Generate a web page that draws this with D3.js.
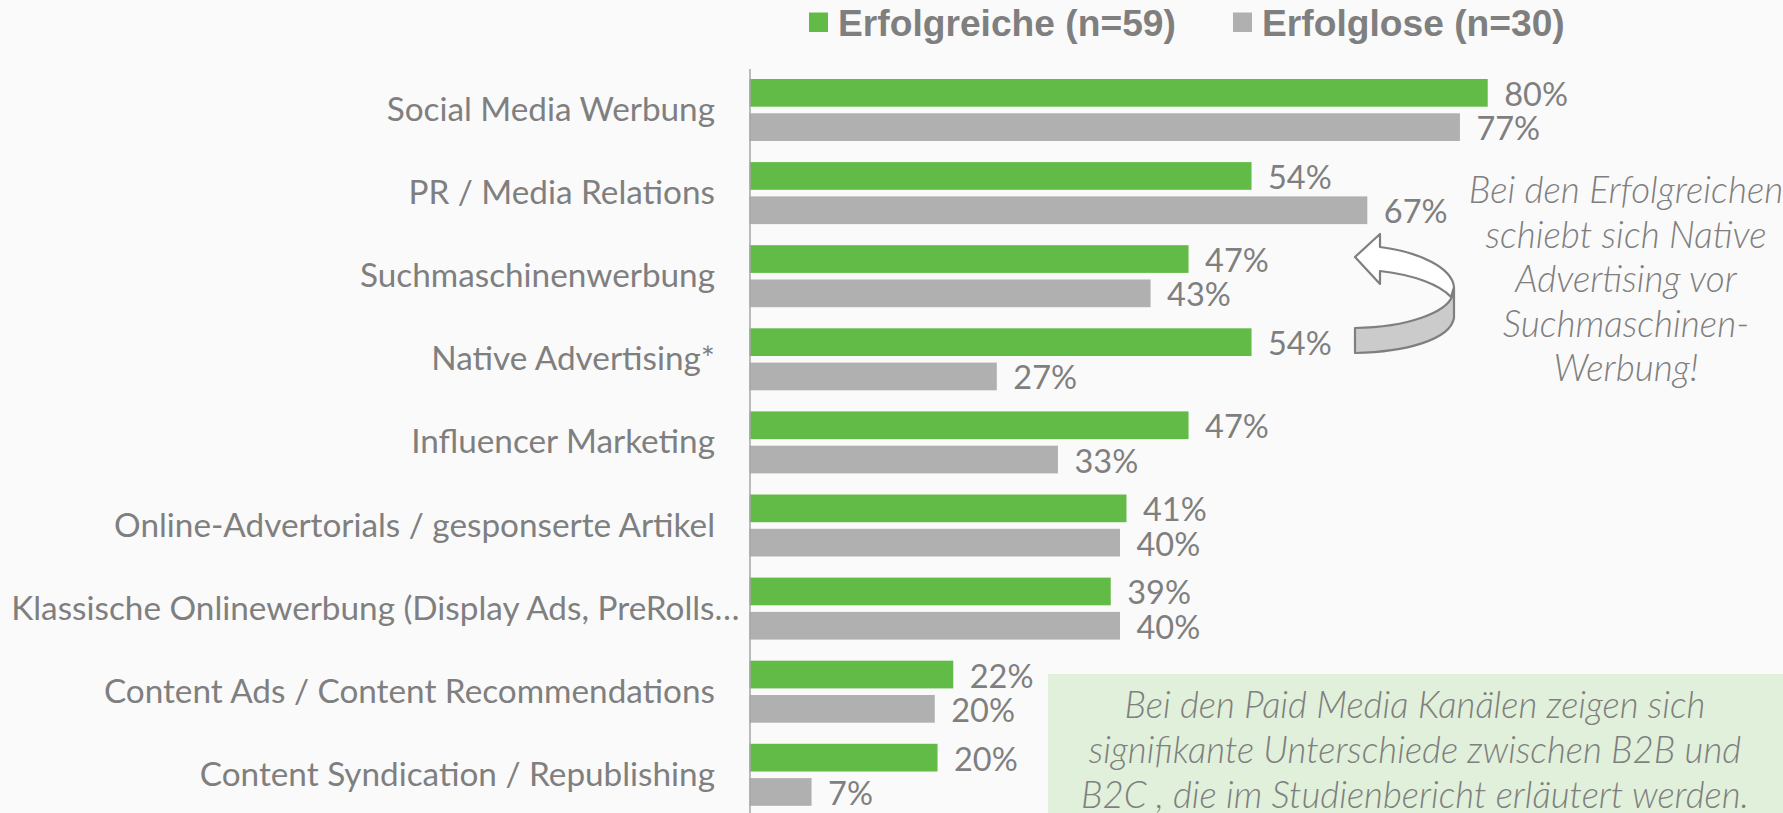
<!DOCTYPE html>
<html><head><meta charset="utf-8">
<script src="https://cdn.jsdelivr.net/npm/d3@7"></script>
<style>html,body{margin:0;padding:0;background:#fafafa;overflow:hidden}svg{display:block}</style>
</head><body><svg id="c" width="1783" height="813"></svg>
<script>
const categories=["Social Media Werbung","PR / Media Relations","Suchmaschinenwerbung","Native Advertising*","Influencer Marketing","Online-Advertorials / gesponserte Artikel","Klassische Onlinewerbung (Display Ads, PreRolls…","Content Ads / Content Recommendations","Content Syndication / Republishing"];
const erfolgreiche=[79.7,54.2,47.4,54.2,47.4,40.7,39.0,22.0,20.3];
const erfolglose=[76.7,66.7,43.3,26.7,33.3,40.0,40.0,20.0,6.7];
const seriesNames=["Erfolgreiche (n=59)","Erfolglose (n=30)"];
const noteRight=["Bei den Erfolgreichen","schiebt sich Native","Advertising vor","Suchmaschinen-","Werbung!"];
const noteBox=["Bei den Paid Media Kanälen zeigen sich","signifikante Unterschiede zwischen B2B und","B2C , die im Studienbericht erläutert werden."];

const GREEN="#62bb46",GRAY="#b0b0b0",TXT="#7f7f7f",FONT="Lato, 'Open Sans', sans-serif";
const svg=d3.select("#c");
svg.append("rect").attr("width",1783).attr("height",813).attr("fill","#fafafa");

const x=d3.scaleLinear().domain([0,80]).range([749.5,1490.5]);
const y=d3.scaleBand().domain(categories).range([68.5,68.5+83.1*categories.length]).paddingInner(0).paddingOuter(0);
const sub=d3.scaleBand().domain([0,1]).range([10.5,72.5]).paddingInner(0.192);

svg.append("rect").attr("x",1048).attr("y",674).attr("width",735).attr("height",139).attr("fill","#e0f0da");

const rows=svg.append("g").selectAll("g").data(categories).join("g").attr("transform",d=>`translate(0,${y(d)})`);
[erfolgreiche,erfolglose].forEach((vals,s)=>{
  rows.append("rect").attr("x",x(0)).attr("y",sub(s)).attr("height",sub.bandwidth())
    .attr("width",(d,i)=>x(vals[i])-x(0)).attr("fill",s?GRAY:GREEN);
  rows.append("text").attr("x",(d,i)=>x(vals[i])+16.5).attr("y",sub(s)+sub.bandwidth()/2+13)
    .attr("font-family",FONT).attr("font-size",32.5).attr("font-weight",400).attr("fill",TXT)
    .text((d,i)=>Math.round(vals[i])+"%");
});

const axis=d3.axisLeft(y).tickSize(0).tickPadding(34.5);
const ag=svg.append("g").attr("transform",`translate(${x(0)},0)`).call(axis);
ag.select(".domain").attr("stroke","#a6a6a6").attr("stroke-width",1.5);
ag.selectAll("text").attr("font-family",FONT).attr("font-size",33.3).attr("font-weight",400).attr("fill",TXT).attr("dy",null).attr("y",11);
ag.selectAll(".tick text").filter(d=>d.startsWith("Klassische")).attr("x",-10);

const leg=svg.append("g");
[[809,838],[1233,1262]].forEach(([sx,tx],i)=>{
  leg.append("rect").attr("x",sx).attr("y",12.5).attr("width",19).attr("height",19.5).attr("fill",i?GRAY:GREEN);
  leg.append("text").attr("x",tx).attr("y",36).attr("font-family","'Liberation Sans',Arial,sans-serif").attr("font-weight",700).attr("font-size",37.2).attr("fill",TXT).text(seriesNames[i]);
});

const arrow=svg.append("g").attr("stroke","#7f7f7f").attr("stroke-width",2.2).attr("stroke-linejoin","round");
arrow.append("path").attr("fill","#cbcbcb").attr("d","M1355,328 C1410,327 1445,312 1452,297 L1454,287 L1454,318 C1450,340 1405,352 1355,353 Z");
arrow.append("path").attr("fill","#fff").attr("d","M1355,257 L1380,234 L1380,247 C1420,252 1452,268 1454,287 L1451,297 C1440,285 1415,275 1380,271 L1380,284 Z");

svg.append("g").selectAll("text").data(noteRight).join("text")
  .attr("x",1626).attr("y",(d,i)=>203+i*44.5).attr("text-anchor","middle")
  .attr("font-family",FONT).attr("font-style","italic").attr("font-weight",300).attr("font-size",36.9).attr("fill",TXT).text(d=>d);
svg.append("g").selectAll("text").data(noteBox).join("text")
  .attr("x",1415).attr("y",(d,i)=>718+i*45).attr("text-anchor","middle")
  .attr("font-family",FONT).attr("font-style","italic").attr("font-weight",300).attr("font-size",36.6).attr("fill",TXT).text(d=>d);
</script></body></html>
